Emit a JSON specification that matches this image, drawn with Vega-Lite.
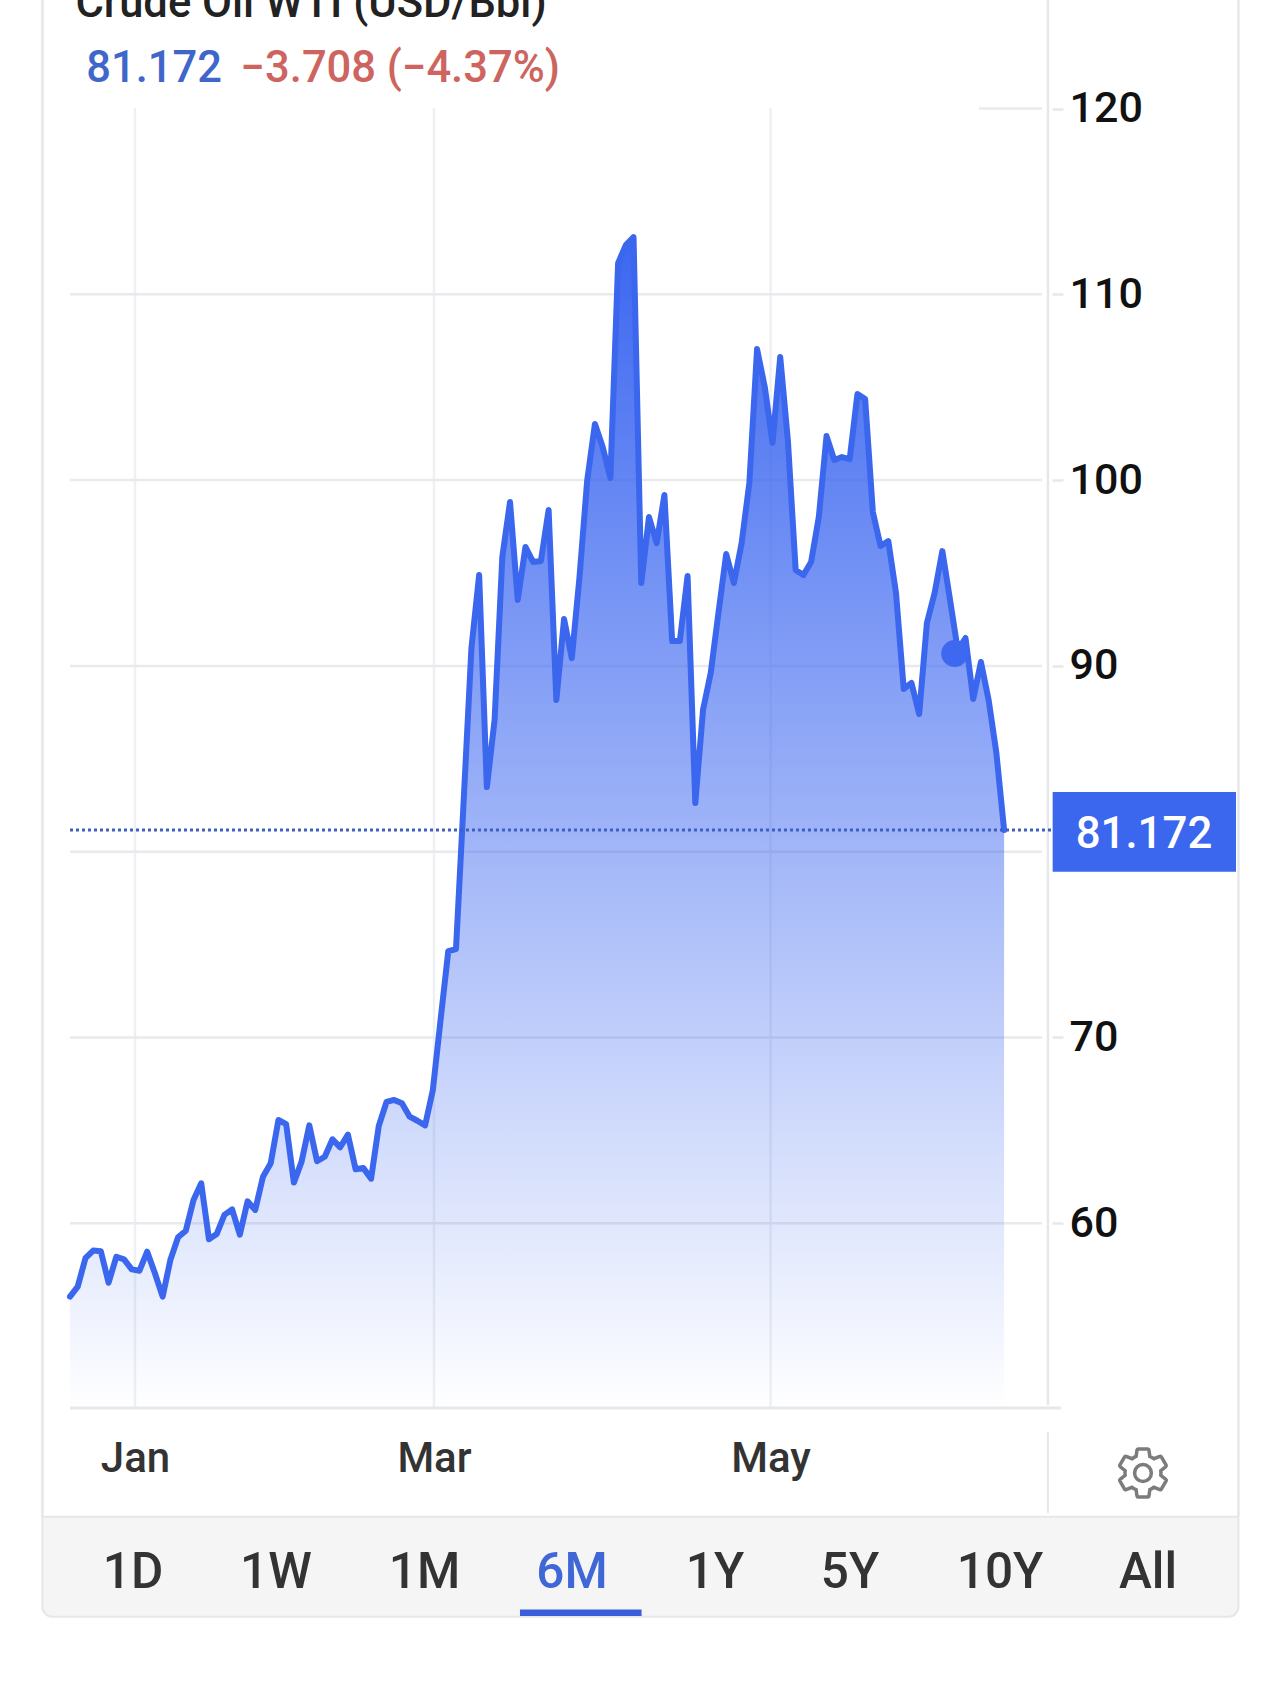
{"$schema":"https://vega.github.io/schema/vega-lite/v6.json","width":1280,"height":1685,"padding":0,"autosize":{"type":"none"},"background":"#ffffff","config":{"view":{"stroke":null},"font":"Roboto"},
"data":{"values":[{"session":0,"price":56.05},{"session":1,"price":56.59},{"session":2,"price":58.12},{"session":3,"price":58.53},{"session":4,"price":58.49},{"session":5,"price":56.8},{"session":6,"price":58.2},{"session":7,"price":58.06},{"session":8,"price":57.52},{"session":9,"price":57.45},{"session":10,"price":58.47},{"session":11,"price":57.31},{"session":12,"price":56.05},{"session":13,"price":58.02},{"session":14,"price":59.25},{"session":15,"price":59.6},{"session":16,"price":61.25},{"session":17,"price":62.15},{"session":18,"price":59.14},{"session":19,"price":59.42},{"session":20,"price":60.45},{"session":21,"price":60.75},{"session":22,"price":59.39},{"session":23,"price":61.18},{"session":24,"price":60.72},{"session":25,"price":62.51},{"session":26,"price":63.23},{"session":27,"price":65.56},{"session":28,"price":65.34},{"session":29,"price":62.19},{"session":30,"price":63.32},{"session":31,"price":65.27},{"session":32,"price":63.34},{"session":33,"price":63.58},{"session":34,"price":64.52},{"session":35,"price":64.09},{"session":36,"price":64.77},{"session":37,"price":62.91},{"session":38,"price":62.98},{"session":39,"price":62.4},{"session":40,"price":65.24},{"session":41,"price":66.53},{"session":42,"price":66.64},{"session":43,"price":66.46},{"session":44,"price":65.74},{"session":45,"price":65.52},{"session":46,"price":65.27},{"session":47,"price":67.17},{"session":48,"price":70.94},{"session":49,"price":74.65},{"session":50,"price":74.76},{"session":51,"price":82.78},{"session":52,"price":90.96},{"session":53,"price":94.89},{"session":54,"price":83.48},{"session":55,"price":87.09},{"session":56,"price":95.86},{"session":57,"price":98.82},{"session":58,"price":93.55},{"session":59,"price":96.4},{"session":60,"price":95.59},{"session":61,"price":95.65},{"session":62,"price":98.39},{"session":63,"price":88.16},{"session":64,"price":92.52},{"session":65,"price":90.42},{"session":66,"price":94.78},{"session":67,"price":100.0},{"session":68,"price":103.02},{"session":69,"price":101.78},{"session":70,"price":100.11},{"session":71,"price":111.68},{"session":72,"price":112.65},{"session":73,"price":113.08},{"session":74,"price":94.46},{"session":75,"price":98.01},{"session":76,"price":96.61},{"session":77,"price":99.2},{"session":78,"price":91.34},{"session":79,"price":91.34},{"session":80,"price":94.84},{"session":81,"price":82.62},{"session":82,"price":87.63},{"session":83,"price":89.62},{"session":84,"price":92.85},{"session":85,"price":96.02},{"session":86,"price":94.46},{"session":87,"price":96.61},{"session":88,"price":99.84},{"session":89,"price":107.05},{"session":90,"price":105.01},{"session":91,"price":102.0},{"session":92,"price":106.62},{"session":93,"price":102.1},{"session":94,"price":95.16},{"session":95,"price":94.89},{"session":96,"price":95.59},{"session":97,"price":98.01},{"session":98,"price":102.37},{"session":99,"price":101.08},{"session":100,"price":101.24},{"session":101,"price":101.13},{"session":102,"price":104.63},{"session":103,"price":104.36},{"session":104,"price":98.28},{"session":105,"price":96.45},{"session":106,"price":96.72},{"session":107,"price":93.92},{"session":108,"price":88.76},{"session":109,"price":89.08},{"session":110,"price":87.41},{"session":111,"price":92.31},{"session":112,"price":93.92},{"session":113,"price":96.18},{"session":114,"price":93.55},{"session":115,"price":90.85},{"session":116,"price":91.5},{"session":117,"price":88.22},{"session":118,"price":90.21},{"session":119,"price":88.16},{"session":120,"price":85.31},{"session":121,"price":81.172}]},
"layer":[
{"data":{"values":[{"part":"footer"}]},"mark":{"type":"rect","color":"#f5f5f6","cornerRadiusBottomLeft":10,"cornerRadiusBottomRight":10,"stroke":"#e6e7ea","strokeWidth":2},"encoding":{"x":{"datum":-3.575},"x2":{"datum":151.36},"y":{"datum":44.21},"y2":{"datum":38.83}}},
{"data":{"values":[{"part":"left"}]},"mark":{"type":"rule","color":"#e6e7ea","strokeWidth":2.5},"encoding":{"x":{"datum":-3.575},"y":{"datum":125.84},"y2":{"datum":44.21}}},
{"data":{"values":[{"part":"right"}]},"mark":{"type":"rule","color":"#e6e7ea","strokeWidth":2.5},"encoding":{"x":{"datum":151.36},"y":{"datum":125.84},"y2":{"datum":44.21}}},
{"data":{"values":[{"part":"axis"}]},"mark":{"type":"rule","color":"#e6e7ea","strokeWidth":2.5},"encoding":{"x":{"datum":126.68},"y":{"datum":125.84},"y2":{"datum":50.2}}},
{"data":{"values":[{"part":"axis2"}]},"mark":{"type":"rule","color":"#e6e7ea","strokeWidth":2},"encoding":{"x":{"datum":126.68},"y":{"datum":48.78},"y2":{"datum":44.41}}},
{"data":{"values":[{"session":8.42},{"session":47.15},{"session":90.75}]},"mark":{"type":"rule","color":"#eef0f3","strokeWidth":2.5},"encoding":{"x":{"field":"session","type":"quantitative","axis":{"title":null}},"y":{"datum":50.06},"y2":{"datum":120.03}}},
{"data":{"values":[{"price":60},{"price":70},{"price":80},{"price":90},{"price":100},{"price":110}]},"mark":{"type":"rule","color":"#e9eaed","strokeWidth":2.5},"encoding":{"y":{"field":"price","type":"quantitative","axis":{"title":null}},"x":{"datum":0},"x2":{"datum":125.9}}},
{"data":{"values":[{"price":120}]},"mark":{"type":"rule","color":"#e9eaed","strokeWidth":2.5},"encoding":{"y":{"field":"price","type":"quantitative","axis":{"title":null}},"x":{"datum":117.75},"x2":{"datum":125.9}}},
{"data":{"values":[{"part":"base"}]},"mark":{"type":"rule","color":"#e6e7ea","strokeWidth":3},"encoding":{"x":{"datum":0},"x2":{"datum":128.37},"y":{"datum":50.06}}},
{"mark":{"type":"area","line":false,"color":{"gradient":"linear","x1":0,"y1":0,"x2":0,"y2":1,"stops":[{"offset":0,"color":"rgba(59,102,240,1)"},{"offset":1,"color":"rgba(59,102,240,0)"}]}},"encoding":{
"x":{"field":"session","type":"quantitative","scale":{"domain":[-9.067,156.74],"nice":false,"zero":false},"axis":{"title":null,"orient":"bottom","offset":-277,"values":[8.42,47.15,90.75],"labelExpr":"datum.value < 20 ? 'Jan' : datum.value < 60 ? 'Mar' : 'May'","domain":false,"ticks":false,"grid":false,"labelFont":"Roboto","labelFontSize":42,"labelFontWeight":500,"labelColor":"#333333","labelPadding":30,"labelFlush":false,"labelOverlap":false}},
"y":{"field":"price","type":"quantitative","scale":{"domain":[35.15,125.84],"nice":false,"zero":false},"axis":{"title":null,"orient":"right","offset":-228,"values":[60,70,90,100,110,120],"domain":false,"ticks":true,"tickSize":11,"tickWidth":2.5,"tickColor":"#e8e9ec","grid":false,"labelFont":"Roboto","labelFontSize":43,"labelFontWeight":500,"labelColor":"#111111","labelPadding":6,"labelFlush":false,"labelOverlap":false}},
"y2":{"datum":50.06}}},
{"mark":{"type":"line","color":"#3b66ee","strokeWidth":6,"strokeJoin":"round","strokeCap":"round"},"encoding":{"x":{"field":"session","type":"quantitative","axis":{"title":null}},"y":{"field":"price","type":"quantitative","axis":{"title":null}}}},
{"data":{"values":[{"session":114.6,"price":90.67}]},"mark":{"type":"point","filled":true,"color":"#3f68f0","opacity":1,"size":729},"encoding":{"x":{"field":"session","type":"quantitative","axis":{"title":null}},"y":{"field":"price","type":"quantitative","axis":{"title":null}}}},
{"data":{"values":[{"price":81.172}]},"mark":{"type":"rule","color":"#3f5fc4","strokeWidth":3,"strokeDash":[3,3]},"encoding":{"y":{"field":"price","type":"quantitative","axis":{"title":null}},"x":{"datum":0},"x2":{"datum":127.29}}},
{"data":{"values":[{"part":"lastbox"}]},"mark":{"type":"rect","color":"#3b66ee"},"encoding":{"x":{"datum":127.29},"x2":{"datum":151.04},"y":{"datum":83.21},"y2":{"datum":78.92}}},
{"data":{"values":[{"label":"81.172"}]},"mark":{"type":"text","font":"Roboto","fontSize":43.8,"fontWeight":500,"color":"#ffffff","align":"center","baseline":"alphabetic"},"encoding":{"x":{"datum":139.12},"y":{"datum":80.2},"text":{"field":"label"}}},
{"data":{"values":[{"label":"Crude Oil WTI (USD/Bbl)"}]},"mark":{"type":"text","font":"Roboto","fontSize":43.5,"fontWeight":500,"color":"#222222","align":"left","baseline":"alphabetic"},"encoding":{"x":{"datum":0.7},"y":{"datum":124.92},"text":{"field":"label"}}},
{"data":{"values":[{"label":"81.172"}]},"mark":{"type":"text","font":"Roboto","fontSize":43.5,"fontWeight":500,"color":"#3f67c9","align":"left","baseline":"alphabetic"},"encoding":{"x":{"datum":2.1},"y":{"datum":121.44},"text":{"field":"label"}}},
{"data":{"values":[{"label":"−3.708 (−4.37%)"}]},"mark":{"type":"text","font":"Roboto","fontSize":43.5,"fontWeight":500,"color":"#cd6460","align":"left","baseline":"alphabetic"},"encoding":{"x":{"datum":22.1},"y":{"datum":121.44},"text":{"field":"label"}}},
{"data":{"values":[{"range":"1D","session":8.16},{"range":"1W","session":26.68},{"range":"1M","session":45.92},{"range":"6M","session":65.03},{"range":"1Y","session":83.55},{"range":"5Y","session":101.04},{"range":"10Y","session":120.47},{"range":"All","session":139.64}]},"mark":{"type":"text","font":"Roboto","fontSize":49.5,"fontWeight":500,"align":"center","baseline":"alphabetic"},"encoding":{"x":{"field":"session","type":"quantitative","axis":{"title":null}},"y":{"datum":40.37},"text":{"field":"range"},"color":{"condition":{"test":"datum.range === '6M'","value":"#3f67d5"},"value":"#333333"}}},
{"data":{"values":[{"part":"selected"}]},"mark":{"type":"rect","color":"#3b5fdc"},"encoding":{"x":{"datum":58.29},"x2":{"datum":74.04},"y":{"datum":39.22},"y2":{"datum":38.87}}},
{"data":{"values":[{"part":"gear"}]},"mark":{"type":"point","filled":false,"stroke":"#7c7c7c","strokeWidth":3.5,"opacity":1,"size":23,"shape":"M7.43 .98c.04-.32.07-.64.07-.98 0-.34-.03-.66-.07-.98l2.11-1.65c.19-.15.24-.42.12-.64l-2-3.46c-.12-.22-.39-.3-.61-.22l-2.49 1c-.52-.4-1.08-.73-1.69-.98l-.38-2.65C2.46 -9.82 2.25 -10 2 -10h-4c-.25 0-.46.18-.49.42l-.38 2.65c-.61.25-1.17.59-1.69.98l-2.49-1c-.23-.09-.49 0-.61.22l-2 3.46c-.13.22-.07.49.12.64l2.11 1.65c-.04.32-.07.65-.07.98 0 .33.03.66.07.98l-2.11 1.65c-.19.15-.24.42-.12.64l2 3.46c.12.22.39.3.61.22l2.49-1c.52.4 1.08.73 1.69.98l.38 2.65c.03.24.24.42.49.42h4c.25 0 .46-.18.49-.42l.38-2.65c.61-.25 1.17-.59 1.69-.98l2.49 1c.23.09.49 0 .61-.22l2-3.46c.12-.22.07-.49-.12-.64l-2.11-1.65zM0 3.5c-1.93 0-3.5-1.57-3.5-3.5s1.57-3.5 3.5-3.5 3.5 1.57 3.5 3.5-1.57 3.5-3.5 3.5z"},"encoding":{"x":{"datum":138.99},"y":{"datum":46.56}}}
]}
